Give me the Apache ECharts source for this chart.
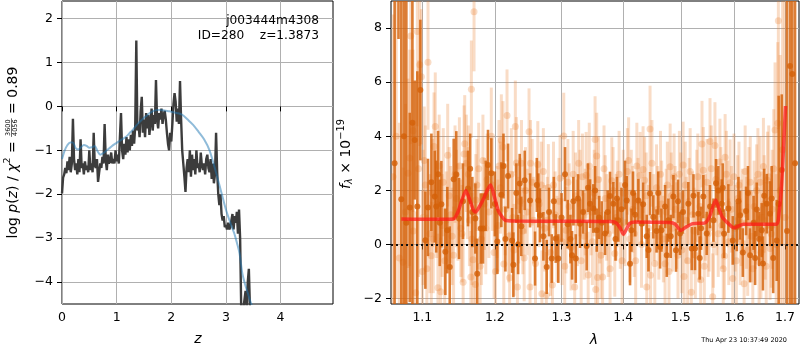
<!DOCTYPE html>
<html><head><meta charset="utf-8">
<script src="https://cdn.jsdelivr.net/npm/echarts@6/dist/echarts.min.js"></script>
<style>html,body{margin:0;padding:0;background:#fff}#c{width:800px;height:350px}</style>
</head><body><div id="c"></div>
<script>
// ---------- left panel: p(z) ----------
const zGrid = [0,0.02,0.04,0.06,0.08,0.1,0.12,0.14,0.16,0.18,
0.2,0.22,0.24,0.26,0.28,0.3,0.32,0.34,0.36,0.38,
0.4,0.42,0.44,0.46,0.48,0.5,0.52,0.54,0.56,0.58,
0.6,0.62,0.64,0.66,0.68,0.7,0.72,0.74,0.76,0.78,
0.8,0.82,0.84,0.86,0.88,0.9,0.92,0.94,0.96,0.98,
1.0,1.02,1.04,1.06,1.08,1.1,1.12,1.14,1.16,1.18,
1.2,1.22,1.24,1.26,1.28,1.3,1.32,1.34,1.36,1.38,
1.4,1.42,1.44,1.46,1.48,1.5,1.52,1.54,1.56,1.58,
1.6,1.62,1.64,1.66,1.68,1.7,1.72,1.74,1.76,1.78,
1.8,1.82,1.84,1.86,1.88,1.9,1.92,1.94,1.96,1.98,
2.0,2.02,2.04,2.06,2.08,2.1,2.12,2.14,2.16,2.18,
2.2,2.22,2.24,2.26,2.28,2.3,2.32,2.34,2.36,2.38,
2.4,2.42,2.44,2.46,2.48,2.5,2.52,2.54,2.56,2.58,
2.6,2.62,2.64,2.66,2.68,2.7,2.72,2.74,2.76,2.78,
2.8,2.82,2.84,2.86,2.88,2.9,2.92,2.94,2.96,2.98,
3.0,3.02,3.04,3.06,3.08,3.1,3.12,3.14,3.16,3.18,
3.2,3.22,3.24,3.26,3.28,3.3,3.32,3.34,3.36,3.38,
3.4,3.42,3.44,3.46];
const logPz = [-1.98,-1.62,-1.55,-1.40,-1.52,-1.25,-1.45,-1.15,-1.50,-1.30,
-0.28,-1.20,-1.45,-1.30,-1.55,-1.20,-1.50,-0.75,-1.40,-1.30,
-1.55,-1.25,-1.45,-1.35,-1.50,-1.00,-1.45,-1.30,-1.50,-0.60,
-1.35,-1.40,-1.20,-1.72,-1.50,-1.30,-1.40,-1.15,-1.30,-0.40,
-1.20,-1.45,-1.10,-1.30,-1.25,-1.05,-1.30,-1.20,-1.30,-1.00,
-1.25,-1.10,-1.30,-0.70,-0.15,-1.00,-1.20,-0.85,-1.10,-0.70,
-1.05,-0.75,-1.00,-0.65,-0.90,-0.55,-0.85,-0.45,1.50,-0.55,
-0.40,-0.70,-0.10,0.22,-0.60,-0.30,-0.70,-0.15,-0.50,-0.20,
-0.65,-0.35,-0.05,-0.55,-0.20,-0.40,0.60,-0.30,-0.50,-0.15,
-0.30,-0.05,-0.40,-0.20,-0.10,-0.30,-0.60,-0.85,-1.00,-0.60,
-0.80,-0.40,0.05,0.30,0.10,-0.35,-0.05,-0.40,0.58,-0.30,
-1.00,-1.30,-1.60,-1.95,-1.40,-1.20,-1.50,-1.00,-1.60,-1.10,
-1.45,-1.20,-1.55,-1.00,-1.40,-1.30,-1.50,-1.05,-1.35,-1.45,
-1.30,-1.55,-1.20,-1.10,-1.40,-1.50,-1.20,-1.65,-1.30,-1.75,
-1.55,-0.60,-1.50,-2.00,-2.25,-2.00,-2.45,-2.60,-2.50,-2.75,
-2.70,-2.80,-2.65,-2.80,-2.75,-2.60,-2.45,-2.80,-2.50,-2.65,
-2.40,-2.90,-2.35,-3.00,-4.60,-4.60,-4.60,-4.60,-4.20,-4.60,
-4.00,-3.70,-4.60,-4.70];
const zPrior = [0,0.05,0.1,0.15,0.2,0.25,0.3,0.35,0.4,0.45,0.5,0.55,0.6,0.65,0.7,0.75,0.8,0.85,0.9,0.95,
1.0,1.05,1.1,1.15,1.2,1.25,1.3,1.35,1.4,1.45,1.5,1.55,1.6,1.65,1.7,1.75,1.8,1.85,1.9,1.95,
2.0,2.1,2.2,2.3,2.4,2.5,2.6,2.7,2.8,2.9,3.0,3.1,3.15,3.2,3.25,3.3,3.35,3.4,3.45,3.5];
const logPrior = [-1.20,-1.00,-0.88,-0.82,-0.82,-0.95,-0.98,-0.93,-0.88,-0.90,-0.94,-0.93,-0.90,-1.02,-1.10,-1.07,-1.02,-0.97,-0.92,-0.87,
-0.83,-0.79,-0.75,-0.71,-0.66,-0.59,-0.53,-0.45,-0.38,-0.32,-0.26,-0.21,-0.16,-0.12,-0.09,-0.08,-0.08,-0.09,-0.10,-0.11,
-0.12,-0.15,-0.19,-0.30,-0.42,-0.58,-0.75,-1.00,-1.42,-1.88,-2.35,-2.72,-2.88,-3.10,-3.35,-3.80,-4.05,-4.25,-4.45,-4.60];
const zTicks = [0,1,2,3,4];
const pzTicks = [-4,-3,-2,-1,0,1,2];

// ---------- right panel: spectrum ----------
const darkWave = [1.0640,1.0690,1.0726,1.0760,1.0791,1.0835,1.0870,1.0900,1.0934,1.0974,
1.1040,1.1075,1.1120,1.1165,1.1185,1.1232,1.1254,1.1308,1.1335,1.1368,
1.1422,1.1458,1.1495,1.1550,1.1620,1.1680,1.1723,1.1749,1.1799,1.1831,
1.1870,1.1902,1.1949,1.2000,1.2036,1.2094,1.2153,1.2192,1.2251,1.2270,
1.2314,1.2364,1.2387,1.2438,1.2518,1.2593,1.2643,1.2669,1.2720,1.2771,
1.2807,1.2848,1.2910,1.2950,1.3000,1.3055,1.3097,1.3140,1.3186,1.3224,
1.3292,1.3340,1.3399,1.3453,1.3506,1.3561,1.3600,1.3643,1.3697,1.3740,
1.3779,1.3834,1.3870,1.3917,1.3970,1.4058,1.4114,1.4138,1.4200,1.4256,
1.4313,1.4337,1.4400,1.4457,1.4514,1.4570,1.4632,1.4656,1.4720,1.4779,
1.4820,1.4868,1.4915,1.4987,1.5040,1.5137,1.5199,1.5259,1.5320,1.5370,
1.5412,1.5475,1.5536,1.5600,1.5649,1.5692,1.5756,1.5800,1.5882,1.5966,
1.6043,1.6106,1.6160,1.6223,1.6301,1.6370,1.6432,1.6480,1.6531,1.6580,
1.6631,1.6697,1.6760,1.6831,1.6870,1.6933,1.7040,1.7102,1.7149,1.7205,
1.1210,1.1650,1.2125,1.2620,1.2880,1.3260,1.3420,1.3535,1.3895,1.4030,
1.4165,1.4600,1.4950,1.5230,1.5775,1.6075,1.6260,1.6730,1.3165,1.4750,
1.5345,1.6400,1.6555,1.2340,1.4430];
const darkFlux = [3.0,14.0,1.67,4.0,0.80,1.37,4.5,3.86,1.40,5.71,
0.16,1.37,2.30,1.77,1.40,0.80,1.49,-0.27,0.53,-0.83,
2.41,2.59,0.96,1.60,2.07,1.20,0.96,-1.08,0.59,0.59,
1.80,2.94,2.63,1.50,0.11,1.84,0.20,2.53,0.15,-0.75,
1.90,2.25,0.67,2.37,1.63,-0.52,1.63,1.08,0.30,-0.83,
1.20,-0.52,0.22,-0.52,1.00,2.60,0.75,0.20,1.60,-0.52,
0.77,1.20,-0.06,1.51,1.33,0.53,1.00,0.80,0.41,1.20,
1.79,1.51,0.20,0.90,1.30,1.63,-0.71,0.53,1.10,1.63,
0.77,1.49,0.30,1.88,1.02,0.50,-0.09,0.53,1.40,0.90,
0.30,1.77,-0.21,0.41,1.20,1.51,-0.15,-0.15,1.14,0.60,
1.77,0.41,1.40,0.90,2.26,2.00,1.51,0.40,1.33,0.15,
0.65,1.08,-0.30,1.24,-0.40,0.80,1.29,0.20,0.53,1.80,
1.51,1.14,-0.50,0.15,1.50,2.75,0.50,6.60,6.30,3.00,
2.6,2.8,2.9,2.2,1.6,1.7,2.1,2.0,1.7,2.2,
1.9,1.9,1.6,1.8,2.1,1.6,1.9,1.7,-0.4,-0.4,
-0.5,-0.5,-0.7,0.0,-0.2];
const darkErr = [15,6.4,12,8,10,3.5,10,2.2,5,2.6,
1.8,1.8,1.8,1.7,1.7,1.6,1.6,1.6,1.6,1.5,
1.5,1.6,1.5,1.4,1.4,1.3,1.3,1.3,1.3,1.3,
1.3,1.3,1.3,1.2,1.2,1.2,1.2,1.2,1.2,1.2,
1.1,1.1,1.1,1.1,1.0,1.0,1.0,1.0,0.9,1.0,
0.9,0.9,0.9,0.9,0.9,1.0,0.9,0.9,0.9,0.9,
0.9,0.8,0.9,0.9,0.9,0.8,0.8,0.8,0.8,0.8,
0.9,0.8,0.8,0.8,0.8,0.9,0.8,0.8,0.8,0.8,
0.8,0.8,0.8,0.8,0.8,0.8,0.8,0.8,0.8,0.8,
0.8,0.8,0.8,0.8,0.8,0.8,0.8,0.8,0.8,0.8,
0.8,0.8,0.8,0.8,0.9,0.9,0.9,0.9,0.9,0.9,
0.9,0.9,0.9,0.9,1.0,1.0,1.0,1.0,1.0,1.0,
1.1,1.2,1.3,1.5,4.0,2.8,20,20,20,20,
1.6,1.3,1.2,1.0,0.9,0.9,0.9,0.9,0.8,0.9,
0.8,0.8,0.8,0.8,0.9,0.9,1.0,1.2,0.9,0.8,
0.8,1.0,1.0,1.1,0.8];

const lightWave = [1.0620,1.0660,1.0700,1.0748,1.0780,1.0812,1.0835,1.0848,1.0878,1.0913,
1.0934,1.0966,1.0987,1.1010,1.1040,1.1075,1.1100,1.1119,1.1155,1.1172,
1.1190,1.1208,1.1244,1.1280,1.1320,1.1360,1.1400,1.1440,1.1480,1.1520,
1.1552,1.1565,1.1574,1.1596,1.1610,1.1640,1.1660,1.1667,1.1690,1.1704,
1.1723,1.1730,1.1770,1.1810,1.1850,1.1890,1.1949,1.1989,1.2030,1.2060,
1.2094,1.2118,1.2130,1.2177,1.2215,1.2260,1.2299,1.2314,1.2330,1.2370,
1.2410,1.2450,1.2503,1.2518,1.2525,1.2570,1.2635,1.2688,1.2697,1.2740,
1.2765,1.2796,1.2858,1.2900,1.2977,1.3010,1.3035,1.3070,1.3120,1.3183,
1.3207,1.3250,1.3290,1.3330,1.3360,1.3390,1.3423,1.3470,1.3534,1.3545,
1.3561,1.3575,1.3610,1.3657,1.3700,1.3750,1.3808,1.3858,1.3900,1.3950,
1.4000,1.4069,1.4110,1.4160,1.4210,1.4250,1.4285,1.4337,1.4363,1.4400,
1.4457,1.4466,1.4520,1.4570,1.4610,1.4660,1.4720,1.4760,1.4810,1.4850,
1.4900,1.4950,1.5000,1.5043,1.5060,1.5100,1.5150,1.5191,1.5240,1.5290,
1.5330,1.5363,1.5387,1.5412,1.5450,1.5500,1.5536,1.5586,1.5628,1.5660,
1.5722,1.5760,1.5807,1.5820,1.5870,1.5915,1.5966,1.6010,1.6060,1.6110,
1.6150,1.6185,1.6230,1.6280,1.6330,1.6380,1.6430,1.6478,1.6497,1.6530,
1.6564,1.6600,1.6645,1.6697,1.6740,1.6797,1.6852,1.6864,1.6900,1.6950,1.7000,
1.1025,1.1060,1.1135,1.1145,1.1225,1.1265,1.1300,1.1340,1.1380,1.1420,
1.1460,1.1500,1.1535,1.1625,1.1675,1.1745,1.1790,1.1830,1.1870,1.1915,
1.1965,1.2010,1.2045,1.2080,1.2150,1.2200,1.2240,1.2280,1.2350,1.2390,
1.2430,1.2475,1.2550,1.2600,1.2655,1.2720,1.2780,1.2830,1.2875,1.2930,
1.2960,1.3050,1.3100,1.3150,1.3220,1.3270,1.3310,1.3375,1.3440,1.3490,
1.3520,1.3590,1.3630,1.3680,1.3725,1.3780,1.3830,1.3880,1.3930,1.3980,
1.4030,1.4090,1.4135,1.4185,1.4230,1.4310,1.4390,1.4430,1.4490,1.4540,
1.4590,1.4640,1.4690,1.4740,1.4790,1.4830,1.4880,1.4925,1.4975,1.5020,
1.5080,1.5125,1.5170,1.5215,1.5265,1.5310,1.5350,1.5430,1.5480,1.5520,
1.5560,1.5600,1.5645,1.5690,1.5740,1.5785,1.5845,1.5890,1.5940,1.5990,
1.6035,1.6085,1.6130,1.6205,1.6255,1.6305,1.6355,1.6405,1.6455,1.6515,
1.6580,1.6620,1.6670,1.6720,1.6770,1.6820,1.0880,1.0950,1.1000];
const lightFlux = [2.5,4.0,-0.5,-0.66,1.2,2.63,3.2,7.71,4.2,-1.78,
7.87,6.64,6.2,1.0,2.2,6.74,0.4,-0.42,3.62,4.36,
1.5,-1.6,-1.75,2.3,0.9,1.8,0.3,2.6,1.2,0.6,
-1.4,3.34,3.72,3.0,1.9,0.9,-1.2,5.74,-0.56,8.6,
-1.48,1.64,2.8,0.2,1.5,2.4,4.0,-0.3,1.2,2.9,
3.85,3.6,-0.72,4.77,-1.23,1.0,4.36,3.01,-1.57,1.6,
0.5,2.0,4.17,-1.57,3.0,0.9,2.96,2.2,-1.82,0.6,
-1.88,2.11,-1.5,1.1,2.45,0.1,4.01,0.53,1.4,2.6,
-1.57,0.8,1.9,2.5,0.3,2.56,-1.13,1.2,3.88,-1.66,
3.27,-1.22,0.9,-1.2,1.7,0.4,2.36,-0.33,1.5,0.7,
1.9,2.7,0.2,1.3,-0.6,1.6,2.56,2.77,2.37,-1.57,
4.27,-1.14,1.0,2.1,0.3,1.5,-0.71,2.2,2.87,0.6,
1.3,-0.4,1.8,2.94,-1.18,0.9,1.6,-1.77,0.5,1.9,
0.2,-1.3,3.71,2.74,1.0,0.4,3.81,-1.93,3.66,1.2,
3.05,0.7,-0.43,3.22,1.5,2.28,-1.26,0.6,1.7,0.1,
1.2,-1.45,0.8,1.9,0.3,1.4,2.0,-0.64,2.3,1.0,
2.88,0.5,2.37,-0.15,1.3,4.23,4.48,8.27,2.0,3.5,1.0,
3.1,-0.9,1.9,0.2,2.9,0.7,-0.6,3.3,1.1,-0.4,
1.7,2.9,0.4,2.6,0.2,2.2,-0.8,3.1,0.6,1.2,
2.2,-1.0,0.7,2.1,1.3,0.3,2.6,-0.2,0.9,3.0,
-0.5,1.2,2.3,-0.7,1.5,2.7,0.9,-0.3,2.2,0.2,
1.6,-0.8,2.3,-0.1,1.8,3.0,-0.6,1.2,2.9,0.1,
1.9,2.4,-0.4,2.8,1.0,-0.9,2.0,1.0,2.6,-0.6,
0.8,3.1,1.9,0.4,2.9,0.0,1.8,0.6,3.0,-0.7,
1.3,2.6,0.2,1.2,-1.0,1.8,2.5,0.7,2.6,-0.2,
2.2,-0.6,2.7,1.1,-0.4,2.5,1.4,-0.8,2.3,0.6,
2.8,0.0,2.4,0.4,2.0,-0.9,2.6,0.1,1.3,2.5,
-0.6,2.2,0.8,2.7,-0.2,2.3,-0.9,0.8,2.6,-0.3,
1.5,-0.8,2.5,0.4,2.8,0.0,0.5,2.8,-1.0];
const lightErr = [6,6,5,3.5,4,3.5,4,4,3,3,
3.5,3,2.5,2.5,2.2,2.5,2.2,2.0,2.0,2.0,
2.0,2.0,2.0,2.0,1.8,1.8,1.8,1.8,1.8,1.8,
1.8,1.8,1.8,1.8,1.7,1.7,1.7,1.8,1.7,2.2,
1.7,1.7,1.7,1.7,1.7,1.7,1.8,1.7,1.7,1.7,
1.7,1.7,1.7,1.7,1.7,1.7,1.7,1.7,1.7,1.6,
1.6,1.6,1.6,1.6,1.6,1.6,1.6,1.6,1.6,1.6,
1.6,1.6,1.6,1.6,1.6,1.6,1.6,1.6,1.6,1.6,
1.6,1.6,1.6,1.6,1.6,1.6,1.6,1.6,1.6,1.6,
1.6,1.6,1.6,1.6,1.6,1.6,1.6,1.6,1.6,1.6,
1.6,1.6,1.6,1.6,1.6,1.6,1.6,1.6,1.6,1.6,
1.6,1.6,1.6,1.6,1.6,1.6,1.6,1.6,1.6,1.6,
1.6,1.6,1.6,1.6,1.6,1.6,1.6,1.6,1.6,1.6,
1.6,1.6,1.6,1.6,1.6,1.6,1.6,1.6,1.6,1.6,
1.6,1.6,1.6,1.6,1.6,1.6,1.6,1.6,1.6,1.6,
1.6,1.6,1.7,1.7,1.7,1.7,1.7,1.7,1.7,1.7,
1.8,1.8,1.8,1.9,2.2,2.5,3,4,5,8,10,
2.0,2.0,2.0,2.0,1.9,1.9,1.9,1.9,1.8,1.8,
1.8,1.8,1.8,1.8,1.7,1.7,1.7,1.7,1.7,1.7,
1.7,1.7,1.7,1.7,1.7,1.7,1.7,1.7,1.6,1.6,
1.6,1.6,1.6,1.6,1.6,1.6,1.6,1.6,1.6,1.6,
1.6,1.6,1.6,1.6,1.6,1.6,1.6,1.6,1.6,1.6,
1.6,1.6,1.6,1.6,1.6,1.6,1.6,1.6,1.6,1.6,
1.6,1.6,1.6,1.6,1.6,1.6,1.6,1.6,1.6,1.6,
1.6,1.6,1.6,1.6,1.6,1.6,1.6,1.6,1.6,1.6,
1.6,1.6,1.6,1.6,1.6,1.6,1.6,1.6,1.6,1.6,
1.6,1.6,1.6,1.6,1.6,1.6,1.6,1.6,1.6,1.6,
1.6,1.6,1.6,1.7,1.7,1.7,1.7,1.7,1.7,1.7,
1.8,1.8,1.9,2.0,2.2,2.6,4,4,3];

const modelWave = [1.0726,1.100,1.130,1.142,1.148,1.153,1.159,1.165,1.170,1.1728,1.178,1.184,1.190,1.1941,1.199,1.205,1.2148,1.23,1.30,1.38,
1.388,1.395,1.400,1.405,1.411,1.42,1.48,1.49,1.50,1.51,1.522,1.544,1.552,1.559,1.5643,1.570,1.577,1.585,1.595,1.600,
1.607,1.617,1.683,1.688,1.693,1.697,1.701];
const modelFlux = [0.94,0.93,0.93,0.94,1.2,1.6,2.0,1.6,1.25,1.2,1.4,1.7,2.05,2.2,1.8,1.25,0.9,0.87,0.86,0.85,
0.8,0.6,0.38,0.55,0.78,0.83,0.81,0.75,0.52,0.65,0.77,0.8,1.0,1.4,1.64,1.35,1.0,0.83,0.65,0.61,
0.68,0.75,0.75,1.2,2.2,3.6,5.12];
const waveTicks = [1.1,1.2,1.3,1.4,1.5,1.6,1.7];
const fluxTicks = [-2,0,2,4,6,8];

// ---------- drawing ----------
const FONT = 'DejaVu Sans';
const chart = echarts.init(document.getElementById('c'), null, {renderer:'canvas'});
const mctx = document.createElement('canvas').getContext('2d');
function tw(t, s, it){ mctx.font = (it?'italic ':'') + s + 'px "DejaVu Sans"'; return mctx.measureText(t).width; }
function txt(t, x, y, s, it, align){
  return {type:'text', x:x, y:y, z:10, style:{text:t, fontSize:s, fontFamily:FONT, fontStyle: it?'italic':'normal', fill:'#000',
    align: align||'left', verticalAlign:'middle', textAlign: align||'left', textVerticalAlign:'middle'}};
}
function mathLabel(cx, cy, parts){
  let x = 0; const ch = [];
  parts.forEach(p => {
    if (p.num) {
      const w = Math.max(tw(p.num,p.s), tw(p.den,p.s)) + 2;
      ch.push(txt(p.num, x + w/2, p.ny, p.s, false, 'center'));
      ch.push(txt(p.den, x + w/2, p.dy2, p.s, false, 'center'));
      ch.push({type:'line', shape:{x1:x, y1:p.ly, x2:x+w, y2:p.ly}, style:{stroke:'#000', lineWidth:0.6}});
      x += w;
    } else { ch.push(txt(p.t, x, p.dy||0, p.s, p.i)); x += tw(p.t, p.s, p.i); }
  });
  ch.forEach(c => { if (c.type==='line'){ c.shape.x1 -= x/2; c.shape.x2 -= x/2; } else c.x -= x/2; });
  return {type:'group', x:cx, y:cy, rotation:Math.PI/2, children: ch};
}
const fmtNum = v => (v < 0 ? '\u2212' + Math.abs(v) : String(v));
const tickFont = {color:'#000', fontSize:12.5, fontFamily:FONT};
const gridLine = {show:true, lineStyle:{color:'#b0b0b0', width:1}};
function axisTick(vals){ return {show:true, inside:false, length:5, lineStyle:{color:'#000', width:1}, customValues:vals}; }

function errSeries(wave, flux, err, color, lw, r){
  return {type:'custom', xAxisIndex:1, yAxisIndex:1, clip:true, silent:true,
    encode:{x:0, y:1},
    data: wave.map((w,i)=>[w, flux[i], err[i]]),
    renderItem:(params, api)=>{
      const x = api.value(0), y = api.value(1), e = api.value(2);
      const p0 = api.coord([x, y - e]), p1 = api.coord([x, y + e]), pc = api.coord([x, y]);
      return {type:'group', children:[
        {type:'line', shape:{x1:p0[0], y1:p0[1], x2:p1[0], y2:p1[1]}, style:{stroke:color, lineWidth:lw}},
        {type:'circle', shape:{cx:pc[0], cy:pc[1], r:r}, style:{fill:color}}
      ]};
    }};
}

const option = {
  animation:false,
  grid:[{left:62, top:1, width:271, height:303, show:true, borderColor:'#000', borderWidth:1},
        {left:391, top:1, width:408, height:303, show:true, borderColor:'#000', borderWidth:1}],
  xAxis:[
    {gridIndex:0, type:'value', min:0, max:4.96, axisLine:{show:false}, axisTick:axisTick(zTicks),
     axisLabel:Object.assign({customValues:zTicks, margin:7, formatter:fmtNum}, tickFont), splitLine:gridLine},
    {gridIndex:1, type:'log', logBase:10, min:1.0594, max:1.7287, axisLine:{show:false}, axisTick:axisTick(waveTicks),
     axisLabel:Object.assign({customValues:waveTicks, margin:7, formatter:v=>Number(v).toFixed(1)}, tickFont), splitLine:gridLine, minorTick:{show:false}, minorSplitLine:{show:false}}
  ],
  yAxis:[
    {gridIndex:0, type:'value', min:-4.5, max:2.4, axisLine:{show:false}, axisTick:axisTick(pzTicks),
     axisLabel:Object.assign({customValues:pzTicks, margin:9, formatter:fmtNum}, tickFont), splitLine:gridLine},
    {gridIndex:1, type:'value', min:-2.2, max:9, axisLine:{show:false}, axisTick:axisTick(fluxTicks),
     axisLabel:Object.assign({customValues:fluxTicks, margin:9, formatter:fmtNum}, tickFont), splitLine:gridLine}
  ],
  series:[
    {type:'line', xAxisIndex:0, yAxisIndex:0, data:zGrid.map((z,i)=>[z, logPz[i]]), symbol:'none', showSymbol:false, clip:true, silent:true,
     lineStyle:{color:'#3c3c3c', width:2.4}},
    {type:'line', xAxisIndex:0, yAxisIndex:0, data:zPrior.map((z,i)=>[z, logPrior[i]]), symbol:'none', showSymbol:false, clip:true, silent:true, smooth:0.3,
     lineStyle:{color:'rgba(31,119,180,0.5)', width:2}},
    errSeries(lightWave, lightFlux, lightErr, 'rgba(232,125,45,0.27)', 3, 3.5),
    errSeries(darkWave, darkFlux, darkErr, 'rgba(212,98,10,0.82)', 2.6, 3),
    {type:'line', xAxisIndex:1, yAxisIndex:1, data:modelWave.map((w,i)=>[w, modelFlux[i]]), symbol:'none', showSymbol:false, clip:true, silent:true, smooth:0.2,
     lineStyle:{color:'rgba(255,25,25,0.72)', width:3.5},
     markLine:{silent:true, symbol:['none','none'], label:{show:false}, lineStyle:{color:'#111', type:[2,3], width:2},
       data:[{yAxis:0}]}}
  ],
  graphic:{elements:[
    txt('j003444m4308', 319, 20.5, 12.2, false, 'right'),
    txt('ID=280    z=1.3873', 319, 36, 12.2, false, 'right'),
    txt('z', 198, 339, 14, true, 'center'),
    txt('\u03bb', 594, 340, 14, true, 'center'),
    txt('Thu Apr 23 10:37:49 2020', 787, 340, 6.5, false, 'right'),
    mathLabel(13, 152.5, [{t:'log ',s:14},{t:'p',s:14,i:1},{t:'(',s:14},{t:'z',s:14,i:1},{t:') / ',s:14},{t:'\u03c7',s:14,i:1},
      {t:'2',s:9.5,dy:-5},{t:' = ',s:14},{num:'3600',den:'4056',s:6.5,ny:-5,dy2:2.5,ly:-1.5},{t:' = 0.89',s:14}]),
    mathLabel(346, 154, [{t:'f',s:14,i:1},{t:'\u03bb',s:9.8,i:1,dy:3},{t:' \u00d7 10',s:14},{t:'\u221219',s:9.8,dy:-5}])
  ]}
};
chart.setOption(option);
</script>
</body></html>
